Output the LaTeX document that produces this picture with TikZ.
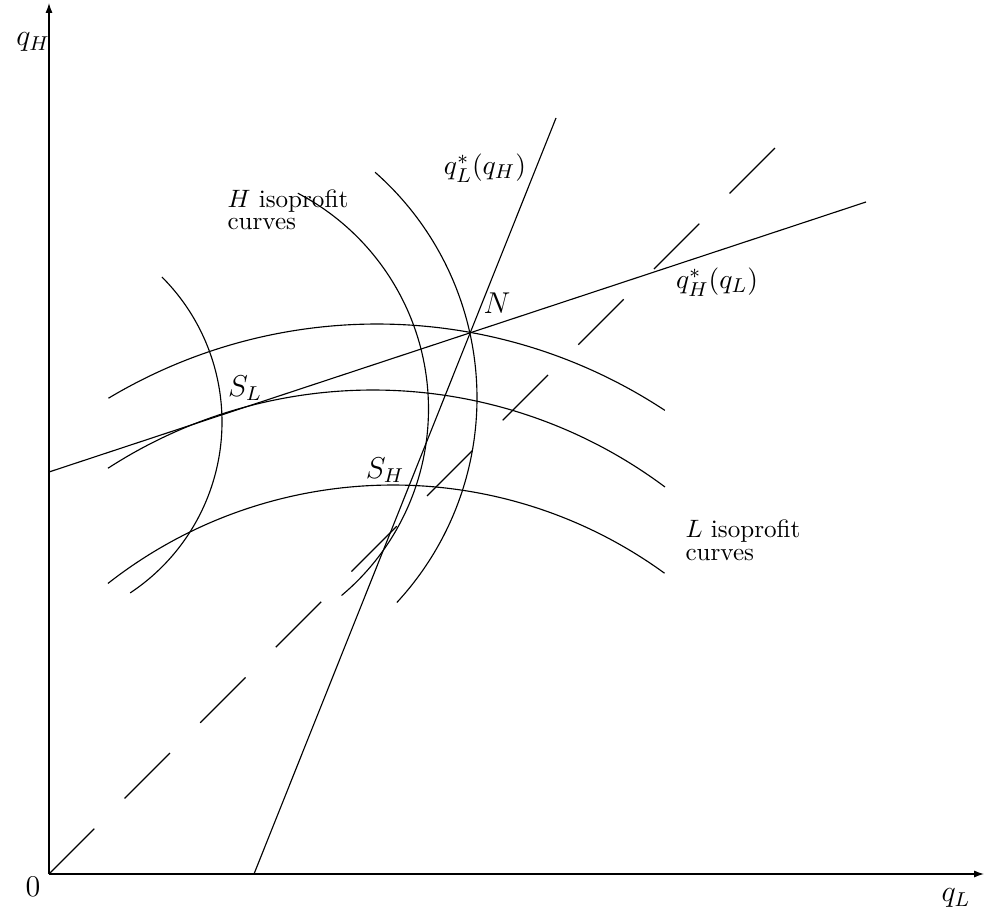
\documentclass[tikz,border=0pt]{standalone}
\usepackage{amsmath}
\usetikzlibrary{arrows.meta}

\begin{document}
\begin{tikzpicture}[x=0.14mm, y=0.14mm,
  every node/.style={font=\normalsize},
  axisline/.style={line width=0.5pt, -{Latex[length=1.4mm,width=1mm]}},
  reaction/.style={line width=0.45pt},
  isocurve/.style={line width=0.45pt},
  diagonal/.style={line width=0.5pt, dash pattern=on 25.5pt off 17.1pt},
  curvelabel/.style={align=left, anchor=west, inner sep=0pt},
  mathlabel/.style={font=\fontsize{11.5}{14}\selectfont},
  funlabel/.style={font=\fontsize{11}{13}\selectfont}
]
  \useasboundingbox (-49,-41) rectangle (935,874);

  % Ejes
  \coordinate (o) at (0,0);
  \coordinate (xend) at (935,0);
  \coordinate (yend) at (0,871);
  \draw[axisline] (o) -- (xend);
  \draw[axisline] (o) -- (yend);
  \node[mathlabel] (ql) at (907,-24) {$q_L$};
  \node[mathlabel] (qh) at (-16,832) {$q_H$};
  \node[mathlabel] (zero) at (-16,-13) {$0$};

  % Recta de 45 grados
  \coordinate (diagend) at (726,726);
  \draw[diagonal] (o) -- (diagend);

  % Funciones de reaccion
  \coordinate (rhA) at (0,402);
  \coordinate (rhB) at (817,672);
  \coordinate (rlA) at (205,0);
  \coordinate (rlB) at (507,756);
  \draw[reaction] (rhA) -- (rhB);
  \draw[reaction] (rlA) -- (rlB);
  \coordinate (n) at (intersection of rhA--rhB and rlA--rlB);
  \node[funlabel] (rllab) at (436,706) {$q_L^*(q_H)$};
  \node[funlabel] (rhlab) at (668,592) {$q_H^*(q_L)$};

  % Curvas isobeneficio de H
  \coordinate (hc1) at (-32,452);
  \coordinate (hc2) at (136,465);
  \coordinate (hc3) at (127,476);
  \draw[isocurve] (hc1) ++(45:205) arc[start angle=45, end angle=-56.5, radius=205];
  \draw[isocurve] (hc2) ++(62.4:243.5) arc[start angle=62.4, end angle=-50, radius=243.5];
  \draw[isocurve] (hc3) ++(48.6:301) arc[start angle=48.6, end angle=-42.8, radius=301];
  \node[curvelabel] (hlab) at (178,664) {$H$ isoprofit\\[-3pt]curves};

  % Curvas isobeneficio de L
  \coordinate (lc1) at (328,27);
  \coordinate (lc2) at (324,-4);
  \coordinate (lc3) at (344,-73);
  \draw[isocurve] (lc1) ++(120.9:523) arc[start angle=120.9, end angle=56.6, radius=523];
  \draw[isocurve] (lc2) ++(122.9:488) arc[start angle=122.9, end angle=53.25, radius=488];
  \draw[isocurve] (lc3) ++(128.1:462) arc[start angle=128.1, end angle=54, radius=462];
  \node[curvelabel] (llab) at (636,334) {$L$ isoprofit\\[-3pt]curves};

  % Equilibrios
  \node[mathlabel] (nlab) at (448,571) {$N$};
  \node[mathlabel] (sl) at (196,486) {$S_L$};
  \node[mathlabel] (sh) at (336,404) {$S_H$};
\end{tikzpicture}
\end{document}
